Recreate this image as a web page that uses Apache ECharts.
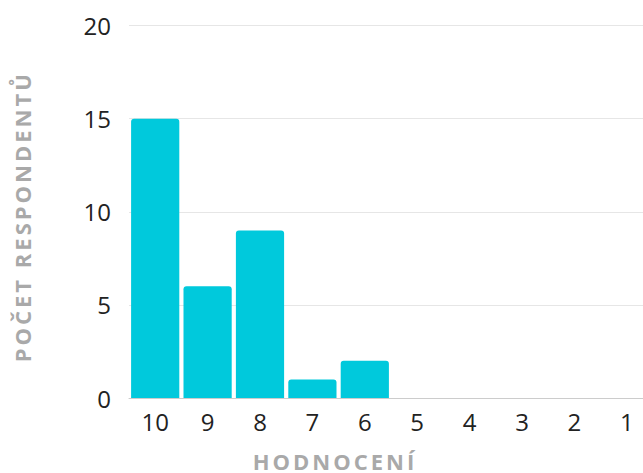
<!DOCTYPE html>
<html>
<head>
<meta charset="utf-8">
<script src="https://cdn.jsdelivr.net/npm/echarts@6/dist/echarts.min.js"></script>
<style>
  html, body { margin: 0; padding: 0; background: #fff; }
  #chart { width: 643px; height: 473px; }
  /* axis titles are spaced out in the original */
  #chart text[fill="#a9a9a9"] { letter-spacing: 3px; }
</style>
</head>
<body>
<div id="chart"></div>
<script>
const categories = ['10', '9', '8', '7', '6', '5', '4', '3', '2', '1'];
const respondents = [15, 6, 9, 1, 2, 0, 0, 0, 0, 0];
const yTicks = { min: 0, max: 20, interval: 5 };

const chart = echarts.init(document.getElementById('chart'), null, { renderer: 'svg' });

const option = {
    animation: false,
    grid: {
        left: 129,
        width: 524,
        top: 25.5,
        bottom: 75,
        outerBoundsMode: 'none',
        containLabel: false
    },
    xAxis: {
        type: 'category',
        data: categories,
        name: 'HODNOCENÍ',
        nameLocation: 'middle',
        nameGap: 53,
        nameTextStyle: {
            fontFamily: 'Open Sans',
            fontSize: 22,
            lineHeight: 19,
            fontWeight: 'bold',
            color: '#a9a9a9',
            padding: [0, 112, 0, 0]
        },
        axisLine: { lineStyle: { color: '#cccccc', width: 1 } },
        axisTick: { show: false },
        axisLabel: {
            fontFamily: 'Open Sans',
            fontSize: 24,
            color: '#222222',
            margin: 11
        }
    },
    yAxis: {
        type: 'value',
        min: yTicks.min,
        max: yTicks.max,
        interval: yTicks.interval,
        name: 'POČET RESPONDENTŮ',
        nameLocation: 'middle',
        nameGap: 96,
        nameTextStyle: {
            fontFamily: 'Open Sans',
            fontSize: 22,
            fontWeight: 'bold',
            color: '#a9a9a9',
            padding: [0, 10, 0, 0]
        },
        axisLine: { show: false },
        axisTick: { show: false },
        splitLine: { lineStyle: { color: '#e6e6e6', width: 1 } },
        axisLabel: {
            fontFamily: 'Open Sans',
            fontSize: 24,
            color: '#222222',
            margin: 18
        }
    },
    series: [{
        type: 'bar',
        data: respondents,
        barCategoryGap: '8%',
        itemStyle: {
            color: '#00c9dc',
            borderRadius: [3, 3, 0, 0]
        }
    }]
};

chart.setOption(option);
</script>
</body>
</html>
